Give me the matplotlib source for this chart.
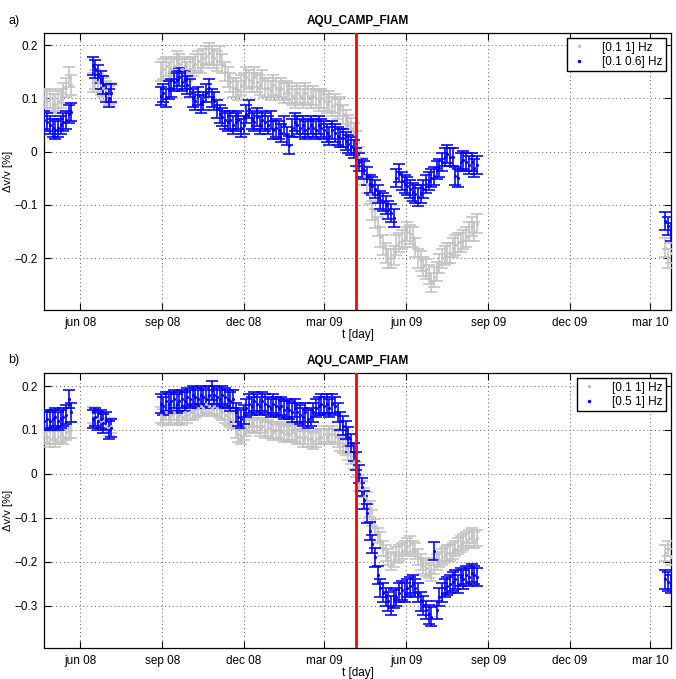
import numpy as np
import pandas as pd
import matplotlib
matplotlib.use('Agg')
import matplotlib.pyplot as plt
import matplotlib.dates as mdates
from matplotlib.lines import Line2D
from matplotlib.ticker import FixedLocator, FuncFormatter

plt.rcParams['font.family'] = ['Liberation Sans', 'DejaVu Sans']

# ---------------- data (dv/v in %, one value every 3 days per segment) ----------------
seg_starts = ['2008-04-22', '2008-06-15', '2008-08-30', '2010-03-18']
step = '3D'
quake_date = '2009-04-06'

# panel a) gray [0.1 1] Hz
a_gray_s1 = [0.10, 0.095, 0.10, 0.09, 0.09, 0.095, 0.10, 0.11, 0.12, 0.14, 0.125]
a_gray_s2 = [0.13, 0.135, 0.13, 0.125, 0.12, 0.115, 0.105, 0.11]
a_gray_s3 = [0.15, 0.155, 0.16, 0.15, 0.155, 0.16, 0.17, 0.165,
             0.155, 0.16, 0.15, 0.155, 0.16, 0.165, 0.17, 0.165,
             0.175, 0.18, 0.185, 0.18, 0.175, 0.17, 0.18, 0.165,
             0.15, 0.14, 0.13, 0.12, 0.12, 0.115, 0.125, 0.13,
             0.14, 0.135, 0.13, 0.14, 0.13, 0.125, 0.135, 0.12,
             0.12, 0.115, 0.125, 0.12, 0.115, 0.12, 0.11, 0.115,
             0.11, 0.105, 0.10, 0.11, 0.105, 0.10, 0.11, 0.105,
             0.10, 0.105, 0.10, 0.095, 0.10, 0.095, 0.09, 0.095,
             0.085, 0.09, 0.08, 0.085, 0.07, 0.06, 0.05, 0.045,
             0.035, 0.02, -0.01, -0.03, -0.045, -0.06, -0.08, -0.11,
             -0.125, -0.14, -0.16, -0.175, -0.19, -0.20, -0.20, -0.195,
             -0.175, -0.17, -0.165, -0.16, -0.15, -0.155, -0.16, -0.18,
             -0.20, -0.205, -0.215, -0.22, -0.23, -0.245, -0.235, -0.225,
             -0.21, -0.20, -0.195, -0.19, -0.19, -0.18, -0.175, -0.17,
             -0.17, -0.165, -0.16, -0.15, -0.14, -0.15, -0.135]
a_gray_s4 = [-0.18, -0.20, -0.19]

# panel a) blue [0.1 0.6] Hz
a_blue_s1 = [0.06, 0.055, 0.05, 0.045, 0.04, 0.045, 0.05, 0.055, 0.06, 0.07, 0.075]
a_blue_s2 = [0.16, 0.155, 0.145, 0.135, 0.125, 0.11, 0.10, 0.11]
a_blue_s3 = [0.105, 0.11, 0.10, 0.115, 0.12, 0.13, 0.135, 0.14,
             0.13, 0.135, 0.125, 0.12, 0.10, 0.095, 0.105, 0.09,
             0.095, 0.11, 0.12, 0.10, 0.095, 0.08, 0.07, 0.065,
             0.06, 0.055, 0.06, 0.05, 0.055, 0.06, 0.045, 0.05,
             0.07, 0.08, 0.06, 0.055, 0.065, 0.05, 0.06, 0.055,
             0.05, 0.06, 0.04, 0.045, 0.04, 0.035, 0.05, 0.03,
             0.012, 0.045, 0.055, 0.05, 0.045, 0.05, 0.04, 0.045,
             0.05, 0.045, 0.04, 0.05, 0.045, 0.04, 0.035, 0.03,
             0.04, 0.035, 0.03, 0.025, 0.025, 0.02, 0.015, 0.01,
             0.005, -0.01, -0.02, -0.03, -0.035, -0.045, -0.06, -0.065,
             -0.07, -0.08, -0.09, -0.095, -0.10, -0.11, -0.115, -0.125,
             -0.05, -0.04, -0.055, -0.06, -0.065, -0.07, -0.075, -0.08,
             -0.085, -0.08, -0.07, -0.06, -0.055, -0.05, -0.045, -0.035,
             -0.03, -0.02, -0.01, -0.005, -0.01, -0.01, -0.045, -0.05,
             -0.02, -0.015, -0.02, -0.025, -0.02, -0.03, -0.025]
a_blue_s4 = [-0.13, -0.14, -0.15]

# panel b) gray [0.1 1] Hz
b_gray_s1 = [0.09, 0.085, 0.08, 0.085, 0.08, 0.085, 0.09, 0.085, 0.095, 0.10, 0.10]
b_gray_s2 = [0.135, 0.13, 0.125, 0.12, 0.12, 0.11, 0.105, 0.11]
b_gray_s3 = [0.135, 0.13, 0.14, 0.13, 0.135, 0.14, 0.13, 0.135,
             0.13, 0.14, 0.135, 0.14, 0.14, 0.145, 0.15, 0.155,
             0.15, 0.16, 0.155, 0.15, 0.155, 0.15, 0.145, 0.14,
             0.135, 0.13, 0.125, 0.12, 0.10, 0.09, 0.085, 0.095,
             0.105, 0.11, 0.115, 0.11, 0.11, 0.105, 0.11, 0.10,
             0.105, 0.10, 0.095, 0.10, 0.10, 0.095, 0.09, 0.095,
             0.09, 0.095, 0.09, 0.085, 0.085, 0.08, 0.085, 0.08,
             0.08, 0.075, 0.08, 0.085, 0.085, 0.09, 0.085, 0.09,
             0.09, 0.085, 0.08, 0.07, 0.065, 0.06, 0.05, 0.04,
             0.03, 0.01, -0.02, -0.035, -0.05, -0.06, -0.08, -0.10,
             -0.12, -0.14, -0.15, -0.17, -0.18, -0.19, -0.20, -0.195,
             -0.185, -0.18, -0.175, -0.17, -0.165, -0.16, -0.17, -0.175,
             -0.19, -0.20, -0.21, -0.215, -0.22, -0.225, -0.21, -0.20,
             -0.195, -0.19, -0.185, -0.18, -0.18, -0.175, -0.17, -0.165,
             -0.16, -0.155, -0.15, -0.145, -0.14, -0.15, -0.145]
b_gray_s4 = [-0.18, -0.17, -0.19]

# panel b) blue [0.5 1] Hz
b_blue_s1 = [0.12, 0.125, 0.12, 0.125, 0.13, 0.12, 0.125, 0.13, 0.135, 0.17, 0.14]
b_blue_s2 = [0.125, 0.13, 0.12, 0.125, 0.115, 0.12, 0.10, 0.105]
b_blue_s3 = [0.16, 0.155, 0.165, 0.16, 0.165, 0.17, 0.16, 0.165,
             0.17, 0.165, 0.175, 0.17, 0.18, 0.175, 0.17, 0.18,
             0.175, 0.17, 0.18, 0.19, 0.18, 0.175, 0.17, 0.18,
             0.175, 0.17, 0.165, 0.17, 0.14, 0.13, 0.125, 0.135,
             0.15, 0.16, 0.155, 0.165, 0.16, 0.155, 0.165, 0.16,
             0.155, 0.15, 0.16, 0.155, 0.15, 0.155, 0.145, 0.15,
             0.145, 0.14, 0.15, 0.14, 0.135, 0.13, 0.14, 0.125,
             0.13, 0.14, 0.15, 0.155, 0.16, 0.155, 0.16, 0.15,
             0.16, 0.155, 0.14, 0.12, 0.11, 0.10, 0.085, 0.07,
             0.05, 0.03, 0.0, -0.03, -0.06, -0.09, -0.13, -0.16,
             -0.19, -0.23, -0.26, -0.27, -0.28, -0.29, -0.30, -0.285,
             -0.28, -0.27, -0.265, -0.27, -0.26, -0.255, -0.25, -0.26,
             -0.27, -0.29, -0.30, -0.31, -0.32, -0.325, -0.175, -0.31,
             -0.28, -0.27, -0.26, -0.255, -0.25, -0.245, -0.24, -0.25,
             -0.235, -0.24, -0.23, -0.235, -0.225, -0.23, -0.235]
b_blue_s4 = [-0.24, -0.245, -0.25]

a_err_gray, a_err_blue = 0.018, 0.017
b_err_gray, b_err_blue = 0.018, 0.021

a_labels = ['[0.1 1] Hz', '[0.1 0.6] Hz']
b_labels = ['[0.1 1] Hz', '[0.5 1] Hz']
tick_dates = ['2008-06-01', '2008-09-01', '2008-12-01', '2009-03-01',
              '2009-06-01', '2009-09-01', '2009-12-01', '2010-03-01']
xlim_dates = ['2008-04-22', '2010-03-24']

GRAY = (0.76, 0.76, 0.76)
BLUE = (0.0, 0.0, 1.0)


def build(segs):
    dts, vals = [], []
    for start, v in zip(seg_starts, segs):
        dts.extend(pd.date_range(start, periods=len(v), freq=step))
        vals.extend(v)
    return np.array(dts), np.array(vals)


fig = plt.figure(figsize=(6.76, 6.79), dpi=100)
axA = fig.add_axes([0.0658, 0.5434, 0.9264, 0.4076])
axB = fig.add_axes([0.0658, 0.0452, 0.9264, 0.4050])


def draw(ax, gray_segs, blue_segs, eg, eb, labels, ylim, yticks, letter, ly):
    for segs, col, err in [(gray_segs, GRAY, eg), (blue_segs, BLUE, eb)]:
        d, v = build(segs)
        line, caps, bars = ax.errorbar(d, v, yerr=err, fmt='.', color=col, ecolor=col,
                                       mfc=col, mec=col, ms=2.5,
                                       elinewidth=1.15, capsize=4, capthick=1.15, zorder=3)
        for c in caps:
            c.set_color(col)
            c.set_markeredgecolor(col)
            c.set_markerfacecolor(col)
        for b in bars:
            b.set_color(col)
    ax.axvline(pd.Timestamp(quake_date), color='red', lw=2.0, zorder=5)
    ax.set_xlim(pd.Timestamp(xlim_dates[0]), pd.Timestamp(xlim_dates[1]))
    ax.set_ylim(*ylim)
    ax.xaxis.set_major_locator(FixedLocator([mdates.date2num(pd.Timestamp(t)) for t in tick_dates]))
    ax.xaxis.set_major_formatter(FuncFormatter(lambda x, p: mdates.num2date(x).strftime('%b %y').lower()))
    ax.yaxis.set_major_locator(FixedLocator(yticks))
    ax.yaxis.set_major_formatter(FuncFormatter(
        lambda y, p: '0' if abs(y) < 1e-9 else ('%g' % y).replace('-', '\u2212')))
    ax.tick_params(direction='in', top=True, right=True, length=5, width=0.8,
                   labelsize=8.5, pad=5)
    ax.grid(True, linestyle=(0, (1, 3)), color='0.35', linewidth=0.7)
    for s in ax.spines.values():
        s.set_linewidth(0.9)
    ax.set_title('AQU_CAMP_FIAM', fontweight='bold', fontsize=8.5, pad=7)
    ax.set_xlabel('t [day]', fontsize=8.5, labelpad=0)
    ax.set_ylabel('\u0394v/v [%]', fontsize=8)
    ax.yaxis.set_label_coords(-0.051, 0.5)
    handles = [Line2D([], [], marker='.', ls='none', color=GRAY, ms=3),
               Line2D([], [], marker='.', ls='none', color=BLUE, ms=3)]
    ax.legend(handles, labels, loc='upper right', fontsize=8.5, frameon=True,
              fancybox=False, edgecolor='k', framealpha=1, handlelength=1.5,
              borderpad=0.3, labelspacing=0.2, borderaxespad=0.4, handletextpad=1.2)
    fig.text(0.012, ly, letter, fontsize=9, va='center', ha='left')


draw(axA, [a_gray_s1, a_gray_s2, a_gray_s3, a_gray_s4],
     [a_blue_s1, a_blue_s2, a_blue_s3, a_blue_s4],
     a_err_gray, a_err_blue, a_labels, (-0.297, 0.222),
     [-0.2, -0.1, 0, 0.1, 0.2], 'a)', 1 - 21 / 679)
draw(axB, [b_gray_s1, b_gray_s2, b_gray_s3, b_gray_s4],
     [b_blue_s1, b_blue_s2, b_blue_s3, b_blue_s4],
     b_err_gray, b_err_blue, b_labels, (-0.397, 0.229),
     [-0.3, -0.2, -0.1, 0, 0.1, 0.2], 'b)', 1 - 360 / 679)

fig.savefig('out.png', dpi=100)
